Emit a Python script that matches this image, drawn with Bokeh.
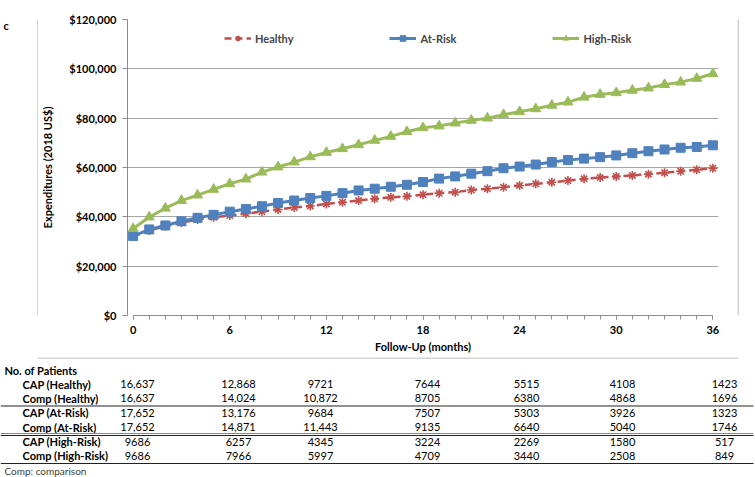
from bokeh.plotting import figure
from bokeh.models import (Range1d, FixedTicker, NumeralTickFormatter, Legend,
                          LegendItem, ColumnDataSource)
from bokeh.layouts import column, row
from bokeh.embed import file_html
from bokeh.resources import INLINE
from bokeh.core.properties import value

FONT = "Lato"

# ---------------- data ----------------
months = list(range(37))
healthy = [32000, 34500, 36200, 37700, 38900, 39800, 40500, 41300, 42100, 43000,
           43800, 44400, 45200, 45900, 46600, 47300, 47900, 48300, 49000, 49600,
           50000, 50900, 51400, 52000, 52700, 53400, 54000, 54700, 55400, 55900,
           56400, 56800, 57300, 57900, 58500, 59100, 59700]
at_risk = [32200, 34900, 36500, 38200, 39600, 40800, 42100, 43200, 44300, 45600,
           46600, 47600, 48500, 49600, 50700, 51400, 52200, 53000, 54100, 55500,
           56400, 57500, 58500, 59700, 60400, 61200, 62200, 63000, 63600, 64200,
           64900, 65800, 66600, 67300, 68000, 68300, 69000]
high_risk = [35200, 39900, 43500, 46600, 48800, 51100, 53400, 55300, 58100, 60200,
             62200, 64300, 66100, 67600, 69200, 71000, 72600, 74500, 76100, 76800,
             78000, 79100, 80000, 81400, 82600, 83800, 85200, 86500, 88500, 89600,
             90300, 91300, 92200, 93600, 94600, 96100, 98000]
series_names = ["Healthy", "At-Risk", "High-Risk"]
x_ticks = [0, 6, 12, 18, 24, 30, 36]
y_ticks = [0, 20000, 40000, 60000, 80000, 100000, 120000]
panel_letter = "c"

table_header = "No. of Patients"
table_rows = ["CAP (Healthy)", "Comp (Healthy)", "CAP (At-Risk)",
              "Comp (At-Risk)", "CAP (High-Risk)", "Comp (High-Risk)"]
table_values = [
    ["16,637", "12,868", "9721", "7644", "5515", "4108", "1423"],
    ["16,637", "14,024", "10,872", "8705", "6380", "4868", "1696"],
    ["17,652", "13,176", "9684", "7507", "5303", "3926", "1323"],
    ["17,652", "14,871", "11,443", "9135", "6640", "5040", "1746"],
    ["9686", "6257", "4345", "3224", "2269", "1580", "517"],
    ["9686", "7966", "5997", "4709", "3440", "2508", "849"],
]
table_note = "Comp: comparison"

RED = "#C0504D"
BLUE = "#4F81BD"
GREEN = "#9BBB59"
GRAY = "#a6a6a6"
BOX = "#a9a9a9"

# page-pixel geometry of the chart-area box
BOX_L, BOX_R, BOX_T, BOX_B = 37, 738, 8, 357


def strip(x0, x1, y0, y1):
    """blank figure whose data coordinates are page pixels"""
    f = figure(width=x1 - x0, height=y1 - y0, x_range=Range1d(x0, x1),
               y_range=Range1d(y1, y0), output_backend="svg",
               toolbar_location=None, x_axis_location=None,
               y_axis_location=None, min_border=0, margin=(0, 0, 0, 0))
    f.grid.visible = False
    f.outline_line_color = None
    f.background_fill_color = "white"
    f.border_fill_color = "white"
    return f


# ---------------- chart ----------------
p = figure(width=699, height=348, x_range=Range1d(-0.35, 36.35),
           y_range=Range1d(0, 120000),
           output_backend="svg", toolbar_location=None,
           min_border_left=85, min_border_right=19, min_border_top=10,
           min_border_bottom=42, margin=(0, 0, 0, 0))
p.outline_line_color = None
p.background_fill_color = "white"
p.border_fill_color = "white"

p.xgrid.visible = False
p.ygrid.ticker = FixedTicker(ticks=y_ticks)
p.ygrid.grid_line_color = GRAY
p.ygrid.grid_line_width = 1

for ax in (p.xaxis[0], p.yaxis[0]):
    ax.axis_line_color = "#8c8c8c"
    ax.major_tick_line_color = "#8c8c8c"
    ax.minor_tick_line_color = "#8c8c8c"
    ax.major_tick_in = 0
    ax.minor_tick_in = 0
    ax.major_label_text_font = FONT
    ax.major_label_text_font_style = "bold"
    ax.major_label_text_font_size = "11px"
    ax.major_label_text_color = "black"
    ax.axis_label_text_font = FONT
    ax.axis_label_text_font_style = "bold"
    ax.axis_label_text_font_size = "11px"
    ax.axis_label_text_color = "black"

p.xaxis.ticker = FixedTicker(ticks=x_ticks, minor_ticks=months)
p.xaxis.bounds = (0, 36)
p.xaxis.major_tick_out = 4
p.xaxis.minor_tick_out = 4
p.xaxis.major_label_standoff = 6
p.xaxis.axis_label = "Follow-Up (months)"
p.xaxis.axis_label_standoff = 3

p.yaxis.ticker = FixedTicker(ticks=y_ticks)
p.yaxis.formatter = NumeralTickFormatter(format="$0,0")
p.yaxis.major_tick_out = 5
p.yaxis.minor_tick_out = 0
p.yaxis.major_label_standoff = 6
p.yaxis.axis_label = "Expenditures (2018 US$)"
p.yaxis.axis_label_standoff = 12

src = ColumnDataSource(dict(m=months, h=healthy, a=at_risk, r=high_risk))

l1 = p.line("m", "h", source=src, line_color=RED, line_width=2.5, line_dash="7 4")
m1 = p.scatter("m", "h", source=src, marker="asterisk", size=9,
               line_color=RED, line_width=1.6)
l2 = p.line("m", "a", source=src, line_color=BLUE, line_width=3)
m2 = p.scatter("m", "a", source=src, marker="square", size=9,
               fill_color=BLUE, line_color=BLUE)
l3 = p.line("m", "r", source=src, line_color=GREEN, line_width=3)
m3 = p.scatter("m", "r", source=src, marker="triangle", size=10,
               fill_color=GREEN, line_color=GREEN)

legend = Legend(items=[LegendItem(label=series_names[0], renderers=[l1, m1]),
                       LegendItem(label=series_names[1], renderers=[l2, m2]),
                       LegendItem(label=series_names[2], renderers=[l3, m3])],
                orientation="horizontal", location=(97, 270), spacing=96,
                padding=0, margin=0, border_line_color=None,
                background_fill_alpha=0, label_text_font=FONT,
                label_text_font_style="bold", label_text_font_size="11px",
                glyph_width=27, glyph_height=14, label_height=14,
                label_standoff=4)
p.add_layout(legend)

# ---------------- box strips ----------------
top = strip(0, 755, 0, BOX_T + 1)
top.segment(x0=[BOX_L], x1=[BOX_R], y0=[BOX_T + 0.5], y1=[BOX_T + 0.5],
            line_color=BOX, line_width=1)

left = strip(0, BOX_L + 1, BOX_T + 1, BOX_B)
left.text(x=[3], y=[16], text=[panel_letter], text_font=value(FONT),
          text_font_style="bold", text_font_size="11px", text_baseline="middle",
          text_color="black")
left.segment(x0=[BOX_L + 0.5], x1=[BOX_L + 0.5], y0=[BOX_T], y1=[BOX_B],
             line_color=BOX, line_width=1)

right = strip(BOX_R - 1, 755, BOX_T + 1, BOX_B)
right.segment(x0=[BOX_R - 0.5], x1=[BOX_R - 0.5], y0=[BOX_T], y1=[BOX_B],
              line_color=BOX, line_width=1)

# ---------------- table ----------------
t = strip(0, 755, BOX_B, 477)
t.segment(x0=[BOX_L], x1=[BOX_R], y0=[BOX_B + 0.5], y1=[BOX_B + 0.5],
          line_color=BOX, line_width=1)

col_x = [137, 238, 320, 427, 526, 622, 724]
row_y = [383.5, 397.5, 412, 426.5, 441, 455]

t.text(x=[4], y=[370], text=[table_header], text_font=value(FONT),
       text_font_style="bold", text_font_size="11px", text_baseline="middle",
       text_color="black")
t.text(x=[22] * len(table_rows), y=row_y, text=table_rows, text_font=value(FONT),
       text_font_style="bold", text_font_size="11px", text_baseline="middle",
       text_color="black")
vx, vy, vt = [], [], []
for i, vals in enumerate(table_values):
    for j, v in enumerate(vals):
        vx.append(col_x[j]); vy.append(row_y[i]); vt.append(v)
t.text(x=vx, y=vy, text=vt, text_font=value(FONT), text_font_size="11px",
       text_baseline="middle", text_align="center", text_color="black")
t.text(x=[4], y=[470], text=[table_note], text_font=value(FONT),
       text_font_size="10px", text_baseline="middle", text_color="#404040")

t.segment(x0=[0, 0, 0, 0], x1=[753, 753, 753, 753], y0=[405.5, 433, 435, 463],
          y1=[405.5, 433, 435, 463],
          line_color=["#222222", "#888888", "#222222", "#222222"], line_width=1)

layout = column(top, row(left, p, right, margin=(0, 0, 0, 0)), t,
                margin=(0, 0, 0, 0))

open("out.html", "w").write(file_html(layout, INLINE))
